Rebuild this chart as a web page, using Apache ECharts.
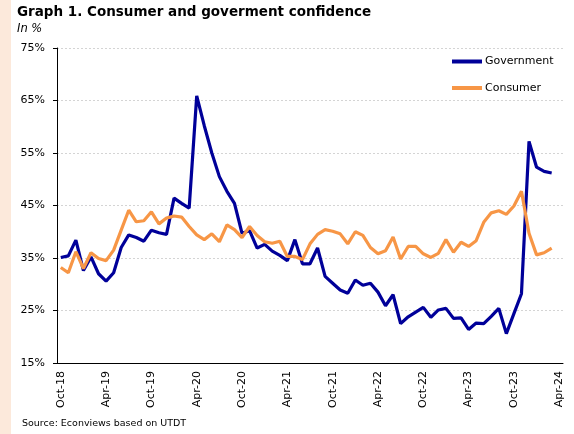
<!DOCTYPE html>
<html>
<head>
<meta charset="utf-8">
<script src="https://cdn.jsdelivr.net/npm/echarts@6/dist/echarts.min.js"></script>
<style>
	html, body { margin: 0; padding: 0; background: #fff; }
	#chart { width: 574px; height: 434px; }
</style>
</head>
<body>
<div id="chart"></div>
<script>
	// months Oct-18 .. Apr-24
	var months = [];
	var mNames = ['Jan', 'Feb', 'Mar', 'Apr', 'May', 'Jun', 'Jul', 'Aug', 'Sep', 'Oct', 'Nov', 'Dec'];
	for (var k = 0; k < 67; k++) {
		var m = (9 + k) % 12;
		var y = 18 + Math.floor((9 + k) / 12);
		months.push(mNames[m] + '-' + y);
	}

	var government = [
		35.1, 35.4, 38.4, 32.6, 35.2, 32.0, 30.6, 32.2, 37.0, 39.4, 38.9, 38.2,
		40.3, 39.8, 39.5, 46.4, 45.4, 44.5, 65.9, 60.2, 55.0, 50.5, 47.7, 45.4,
		39.7, 40.2, 36.9, 37.6, 36.3, 35.5, 34.5, 38.5, 33.9, 33.9, 36.9, 31.5,
		30.2, 28.9, 28.3, 30.8, 29.8, 30.2, 28.5, 25.9, 28.0, 22.5, 23.8, 24.7,
		25.6, 23.7, 25.1, 25.4, 23.5, 23.6, 21.4, 22.6, 22.5, 23.9, 25.4, 20.6,
		24.4, 28.2, 57.2, 52.3, 51.5, 51.2, null
	];

	var consumer = [
		33.2, 32.2, 36.2, 33.0, 36.0, 34.9, 34.5, 36.5, 40.3, 44.1, 41.9, 42.1,
		43.8, 41.5, 42.6, 43.0, 42.8, 41.0, 39.4, 38.5, 39.6, 38.1, 41.3, 40.4,
		38.9, 41.0, 39.3, 38.1, 37.8, 38.2, 35.3, 35.3, 34.7, 37.7, 39.5, 40.4,
		40.1, 39.6, 37.7, 40.0, 39.3, 37.0, 35.8, 36.4, 39.0, 34.8, 37.2, 37.2,
		35.8, 35.1, 35.9, 38.5, 36.1, 38.0, 37.2, 38.3, 41.8, 43.6, 44.0, 43.3,
		44.9, 47.7, 39.7, 35.6, 36.0, 36.9, null
	];

	var font = 'DejaVu Sans';
	var chart = echarts.init(document.getElementById('chart'));

	var option = {
		backgroundColor: '#ffffff',
		animation: false,
		title: {
			text: 'Graph 1. Consumer and goverment confidence',
			subtext: 'In %',
			left: 17,
			top: 5,
			padding: 0,
			itemGap: 4,
			textStyle: {
				fontFamily: font,
				fontSize: 13.5,
				fontWeight: 'bold',
				color: '#000'
			},
			subtextStyle: {
				fontFamily: font,
				fontSize: 11.5,
				fontStyle: 'italic',
				color: '#000'
			}
		},
		graphic: [{
			type: 'rect',
			left: 0,
			top: 0,
			shape: { width: 11, height: 434 },
			style: { fill: '#FCE9DB' },
			z: -1
		}, {
			type: 'text',
			left: 22,
			top: 419,
			style: {
				text: 'Source: Econviews based on UTDT',
				fontFamily: font,
				fontSize: 9.5,
				fill: '#000'
			}
		}],
		legend: {
			data: ['Government', 'Consumer'],
			orient: 'vertical',
			left: 452,
			top: 56,
			padding: 0,
			icon: 'rect',
			itemWidth: 30,
			itemHeight: 4,
			itemGap: 15.5,
			textStyle: {
				fontFamily: font,
				fontSize: 11,
				color: '#000',
				padding: [0, 0, 0, -2]
			}
		},
		grid: {
			left: 57,
			right: 11,
			top: 48,
			bottom: 71
		},
		xAxis: {
			type: 'category',
			data: months,
			boundaryGap: true,
			axisLine: {
				lineStyle: { color: '#000', width: 1 }
			},
			axisTick: {
				interval: 5,
				length: 5,
				lineStyle: { color: '#000' }
			},
			axisLabel: {
				interval: 5,
				rotate: 90,
				margin: 8,
				fontFamily: font,
				fontSize: 11,
				color: '#000'
			},
			splitLine: { show: false }
		},
		yAxis: {
			type: 'value',
			min: 15,
			max: 75,
			interval: 10,
			axisLine: {
				show: true,
				lineStyle: { color: '#000', width: 1 }
			},
			axisTick: {
				show: true,
				length: 4,
				lineStyle: { color: '#000' }
			},
			axisLabel: {
				margin: 12,
				fontFamily: font,
				fontSize: 11,
				color: '#000',
				formatter: function(v) {
					return v + '%';
				}
			},
			splitLine: {
				show: true,
				lineStyle: {
					color: '#d4d4d4',
					type: [2, 2]
				}
			}
		},
		series: [{
			name: 'Government',
			type: 'line',
			data: government,
			symbol: 'none',
			color: '#000099',
			lineStyle: { width: 3.2, color: '#000099' }
		}, {
			name: 'Consumer',
			type: 'line',
			data: consumer,
			symbol: 'none',
			color: '#F79646',
			lineStyle: { width: 3.2, color: '#F79646' }
		}]
	};
	chart.setOption(option);
</script>
</body>
</html>
